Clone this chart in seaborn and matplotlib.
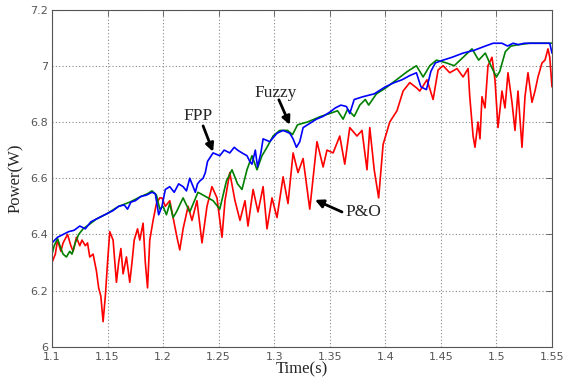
import numpy as np
import pandas as pd
import matplotlib
matplotlib.use("Agg")
import matplotlib.pyplot as plt
import seaborn as sns

# ---------------- data ----------------
po_t = [1.100, 1.103, 1.105, 1.108, 1.110, 1.114, 1.117, 1.119, 1.122, 1.125,
        1.127, 1.130, 1.132, 1.134, 1.137, 1.140, 1.142, 1.144, 1.146, 1.148,
        1.150, 1.152, 1.155, 1.158, 1.160, 1.162, 1.164, 1.167, 1.170, 1.172,
        1.174, 1.177, 1.179, 1.182, 1.184, 1.186, 1.188, 1.191, 1.194, 1.197,
        1.199, 1.202, 1.206, 1.209, 1.2125, 1.215, 1.218, 1.2225, 1.226, 1.2305,
        1.235, 1.2395, 1.244, 1.2485, 1.253, 1.2557, 1.260, 1.2647, 1.2692, 1.2737,
        1.2764, 1.281, 1.2854, 1.290, 1.2935, 1.298, 1.3025, 1.308, 1.3124, 1.317,
        1.3214, 1.326, 1.332, 1.3385, 1.344, 1.3475, 1.353, 1.359, 1.3635, 1.368,
        1.3745, 1.379, 1.3835, 1.386, 1.390, 1.394, 1.398, 1.404, 1.4105, 1.416,
        1.422, 1.4285, 1.431, 1.4375, 1.443, 1.4475, 1.452, 1.458, 1.4645, 1.470,
        1.4745, 1.476, 1.479, 1.4807, 1.4834, 1.4852, 1.487, 1.4897, 1.4924, 1.496,
        1.4987, 1.5014, 1.505, 1.5077, 1.5104, 1.514, 1.5167, 1.5194, 1.523, 1.5257,
        1.5284, 1.532, 1.5347, 1.5374, 1.541, 1.5437, 1.5464, 1.548, 1.550]
po_p = [6.30, 6.33, 6.38, 6.34, 6.37, 6.40, 6.36, 6.34, 6.39, 6.36,
        6.38, 6.36, 6.37, 6.32, 6.33, 6.27, 6.21, 6.18, 6.09, 6.18,
        6.30, 6.41, 6.38, 6.23, 6.30, 6.35, 6.26, 6.32, 6.23, 6.30,
        6.38, 6.42, 6.38, 6.44, 6.30, 6.21, 6.38, 6.45, 6.51, 6.53,
        6.53, 6.50, 6.52, 6.46, 6.39, 6.345, 6.42, 6.50, 6.45, 6.52,
        6.37, 6.50, 6.57, 6.53, 6.39, 6.52, 6.62, 6.52, 6.45, 6.52,
        6.43, 6.56, 6.48, 6.57, 6.42, 6.53, 6.46, 6.605, 6.51, 6.69,
        6.62, 6.67, 6.49, 6.73, 6.64, 6.70, 6.69, 6.75, 6.65, 6.78,
        6.75, 6.77, 6.63, 6.78, 6.63, 6.53, 6.72, 6.80, 6.84, 6.91,
        6.94, 6.92, 6.91, 6.95, 6.88, 6.985, 7.00, 6.975, 6.99, 6.96,
        6.99, 6.89, 6.75, 6.71, 6.80, 6.74, 6.89, 6.85, 7.00, 7.03,
        6.95, 6.78, 6.91, 6.85, 6.975, 6.87, 6.77, 6.91, 6.71, 6.89,
        6.975, 6.87, 6.91, 6.96, 7.01, 7.02, 7.06, 7.03, 6.925]

fpp_t = [1.100, 1.105, 1.110, 1.115, 1.120, 1.125, 1.130, 1.135, 1.140, 1.145,
         1.150, 1.155, 1.160, 1.165, 1.168, 1.171, 1.175, 1.180, 1.185, 1.190,
         1.193, 1.196, 1.199, 1.202, 1.206, 1.210, 1.214, 1.218, 1.221, 1.224,
         1.227, 1.229, 1.231, 1.233, 1.236, 1.238, 1.240, 1.245, 1.251, 1.255,
         1.260, 1.264, 1.267, 1.271, 1.2755, 1.278, 1.280, 1.283, 1.285, 1.288,
         1.290, 1.296, 1.3025, 1.308, 1.314, 1.317, 1.320, 1.323, 1.326, 1.330,
         1.338, 1.344, 1.350, 1.355, 1.360, 1.365, 1.368, 1.372, 1.380, 1.390,
         1.400, 1.408, 1.415, 1.422, 1.428, 1.432, 1.437, 1.441, 1.445, 1.452,
         1.460, 1.470, 1.480, 1.490, 1.497, 1.505, 1.510, 1.515, 1.520, 1.525,
         1.530, 1.540, 1.548, 1.550]
fpp_p = [6.37, 6.39, 6.40, 6.41, 6.415, 6.43, 6.42, 6.445, 6.455, 6.465,
         6.475, 6.485, 6.50, 6.505, 6.49, 6.515, 6.52, 6.535, 6.54, 6.55,
         6.545, 6.47, 6.50, 6.56, 6.57, 6.55, 6.58, 6.57, 6.555, 6.60,
         6.57, 6.55, 6.58, 6.59, 6.60, 6.62, 6.66, 6.69, 6.68, 6.70,
         6.69, 6.71, 6.70, 6.69, 6.68, 6.66, 6.65, 6.70, 6.64, 6.69,
         6.74, 6.73, 6.76, 6.77, 6.76, 6.74, 6.71, 6.73, 6.78, 6.79,
         6.81, 6.82, 6.835, 6.85, 6.86, 6.855, 6.83, 6.88, 6.89, 6.90,
         6.925, 6.94, 6.95, 6.965, 6.975, 6.925, 6.915, 6.98, 7.01, 7.02,
         7.03, 7.045, 7.055, 7.07, 7.08, 7.08, 7.07, 7.08, 7.075, 7.08,
         7.08, 7.08, 7.08, 7.045]

fz_t = [1.100, 1.102, 1.105, 1.108, 1.110, 1.113, 1.116, 1.118, 1.121, 1.124,
        1.128, 1.135, 1.140, 1.150, 1.160, 1.170, 1.180, 1.186, 1.190, 1.194,
        1.197, 1.200, 1.203, 1.206, 1.209, 1.212, 1.218, 1.224, 1.2314, 1.236,
        1.245, 1.251, 1.257, 1.262, 1.267, 1.271, 1.2755, 1.280, 1.2845, 1.289,
        1.2935, 1.299, 1.305, 1.312, 1.3165, 1.321, 1.330, 1.342, 1.350, 1.357,
        1.362, 1.366, 1.372, 1.377, 1.382, 1.385, 1.392, 1.400, 1.410, 1.420,
        1.428, 1.434, 1.440, 1.446, 1.455, 1.462, 1.470, 1.478, 1.484, 1.490,
        1.495, 1.500, 1.503, 1.508, 1.513, 1.520, 1.530, 1.550]
fz_p = [6.33, 6.36, 6.385, 6.35, 6.33, 6.32, 6.34, 6.33, 6.37, 6.40,
        6.42, 6.44, 6.455, 6.475, 6.50, 6.515, 6.535, 6.545, 6.555, 6.54,
        6.49, 6.50, 6.47, 6.51, 6.46, 6.48, 6.53, 6.48, 6.55, 6.54,
        6.52, 6.49, 6.59, 6.63, 6.58, 6.56, 6.63, 6.68, 6.63, 6.68,
        6.71, 6.75, 6.77, 6.77, 6.755, 6.79, 6.80, 6.82, 6.83, 6.84,
        6.81, 6.845, 6.82, 6.86, 6.88, 6.86, 6.90, 6.92, 6.95, 6.98,
        7.00, 6.96, 7.00, 7.02, 7.01, 7.00, 7.03, 7.06, 7.02, 7.045,
        7.00, 6.96, 6.98, 7.05, 7.07, 7.075, 7.08, 7.08]

x_ticks = [1.1, 1.15, 1.2, 1.25, 1.3, 1.35, 1.4, 1.45, 1.5, 1.55]
x_tick_labels = ["1.1", "1.15", "1.2", "1.25", "1.3", "1.35", "1.4", "1.45", "1.5", "1.55"]
y_ticks = [6.0, 6.2, 6.4, 6.6, 6.8, 7.0, 7.2]
y_tick_labels = ["6", "6.2", "6.4", "6.6", "6.8", "7", "7.2"]

# ---------------- plot ----------------
sns.set_style("white")
plt.rcParams["font.family"] = ["DejaVu Sans"]

fig = plt.figure(figsize=(5.7, 3.8), dpi=100)
ax = fig.add_axes([0.0912, 0.087, 0.8772, 0.888])

sns.lineplot(x=po_t, y=po_p, ax=ax, color="#ff0000", lw=1.2, sort=False, estimator=None)
sns.lineplot(x=fz_t, y=fz_p, ax=ax, color="#008000", lw=1.2, sort=False, estimator=None)
sns.lineplot(x=fpp_t, y=fpp_p, ax=ax, color="#0000ff", lw=1.2, sort=False, estimator=None)

ax.set_xlim(1.1, 1.55)
ax.set_ylim(6.0, 7.2)
ax.set_xticks(x_ticks)
ax.set_xticklabels(x_tick_labels)
ax.set_yticks(y_ticks)
ax.set_yticklabels(y_tick_labels)
ax.grid(True, linestyle=(0, (1, 2)), color="#888888", lw=0.8)
ax.tick_params(direction="in", top=True, right=True, length=4, width=0.6,
               colors="#555555", labelsize=8)
ax.tick_params(axis="x", pad=4)
ax.tick_params(axis="y", pad=3)
for s in ax.spines.values():
    s.set_color("#555555")
    s.set_linewidth(0.8)

serif = ["Liberation Serif", "DejaVu Serif"]
ax.set_xlabel("Time(s)", family=serif, fontsize=12, labelpad=-1)
ax.set_ylabel("Power(W)", family=serif, fontsize=12, labelpad=4)

arrow = dict(arrowstyle="-|>", color="black", lw=2.0, mutation_scale=12,
             shrinkA=0, shrinkB=0)
ax.annotate("", xy=(1.245, 6.694), xytext=(1.236, 6.786), arrowprops=arrow)
ax.text(1.2314, 6.822, "FPP", family=serif, fontsize=12.5, ha="center", va="center")
ax.annotate("", xy=(1.3141, 6.790), xytext=(1.3042, 6.879), arrowprops=arrow)
ax.text(1.3015, 6.904, "Fuzzy", family=serif, fontsize=12.5, ha="center", va="center")
ax.annotate("", xy=(1.3367, 6.523), xytext=(1.361, 6.480), arrowprops=arrow)
ax.text(1.3637, 6.480, "P&O", family=serif, fontsize=12.5, ha="left", va="center")

fig.savefig("out.png", dpi=100)
